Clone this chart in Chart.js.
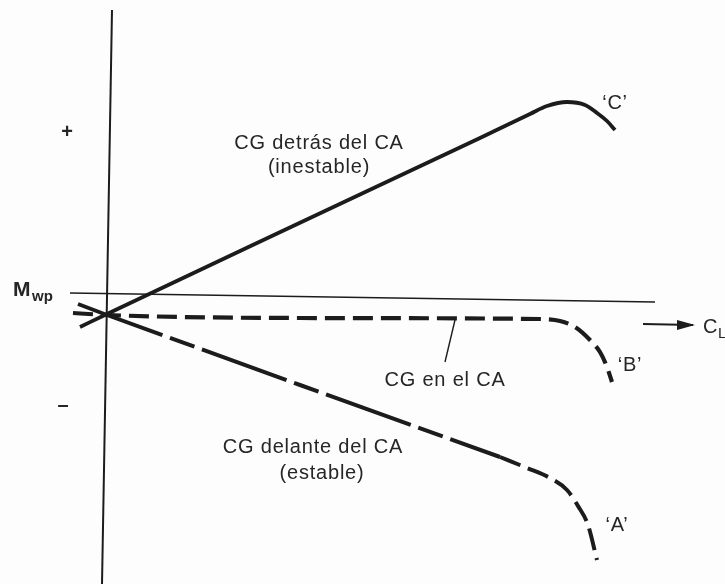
<!DOCTYPE html>
<html>
<head>
<meta charset="utf-8">
<script src="https://cdn.jsdelivr.net/npm/chart.js@4/dist/chart.umd.min.js"></script>
<style>
  html, body { margin: 0; padding: 0; background: #fdfdfd; }
  #wrap { width: 725px; height: 584px; }
</style>
</head>
<body>
<div id="wrap"><canvas id="chart" width="725" height="584"></canvas></div>
<script>
// C_L on x, pitching moment on y (arbitrary units, origin at the axes crossing)
const curveC = [
  { x: -0.054, y: -0.024 }, { x: 0, y: 0.002 }, { x: 0.37, y: 0.177 },
  { x: 0.746, y: 0.354 }, { x: 0.846, y: 0.402 }, { x: 0.88, y: 0.418 },
  { x: 0.92, y: 0.426 }, { x: 0.956, y: 0.42 }, { x: 0.98, y: 0.404 },
  { x: 1.0, y: 0.388 }, { x: 1.016, y: 0.37 },
];
const curveB = [
  { x: -0.068, y: 0.004 }, { x: 0, y: 0 }, { x: 0.386, y: -0.006 },
  { x: 0.866, y: -0.008 }, { x: 0.906, y: -0.012 }, { x: 0.936, y: -0.024 },
  { x: 0.966, y: -0.05 }, { x: 0.986, y: -0.074 }, { x: 1.0, y: -0.104 },
  { x: 1.01, y: -0.134 },
];
const curveA = [
  { x: -0.058, y: 0.022 }, { x: 0, y: 0 }, { x: 0.386, y: -0.14 },
  { x: 0.786, y: -0.284 },
];
const curveAEnd = [
  { x: 0.786, y: -0.284 }, { x: 0.84, y: -0.306 }, { x: 0.886, y: -0.326 },
  { x: 0.92, y: -0.35 }, { x: 0.942, y: -0.382 }, { x: 0.962, y: -0.42 },
  { x: 0.98, y: -0.49 },
];
const axisY = [{ x: 0.01, y: 0.61 }, { x: -0.01, y: -0.538 }];
const lineMwp = [{ x: -0.074, y: 0.044 }, { x: 1.096, y: 0.026 }];
const pointer = [{ x: 0.696, y: -0.01 }, { x: 0.676, y: -0.094 }];
const arrowCL = [{ x: 1.072, y: -0.018 }, { x: 1.172, y: -0.02 }];

const labels = [
  { text: "CG detrás del CA", x: 0.424, y: 0.344 },
  { text: "(inestable)", x: 0.424, y: 0.296 },
  { text: "CG en el CA", x: 0.676, y: -0.13 },
  { text: "CG delante del CA", x: 0.412, y: -0.264 },
  { text: "(estable)", x: 0.43, y: -0.316 },
  { text: "‘C’", x: 1.016, y: 0.424 },
  { text: "‘B’", x: 1.046, y: -0.1 },
  { text: "‘A’", x: 1.02, y: -0.42 },
];
const signs = [
  { text: "+", x: -0.08, y: 0.366 },
  { text: "–", x: -0.088, y: -0.18 },
];

const ink = "#1c1c1c";

const textPlugin = {
  id: "notes",
  afterDatasetsDraw(chart) {
    const { ctx, scales } = chart;
    const sx = scales.x, sy = scales.y;
    ctx.save();
    ctx.fillStyle = "#262626";
    ctx.textAlign = "center";
    ctx.textBaseline = "middle";
    ctx.font = "20px 'Liberation Sans', Arial, sans-serif";
    ctx.letterSpacing = "0.8px";
    labels.forEach((l) => {
      ctx.fillText(l.text, sx.getPixelForValue(l.x), sy.getPixelForValue(l.y));
    });
    ctx.letterSpacing = "0px";
    ctx.font = "bold 20px 'Liberation Sans', Arial, sans-serif";
    signs.forEach((l) => {
      ctx.fillText(l.text, sx.getPixelForValue(l.x), sy.getPixelForValue(l.y));
    });
    // M_wp
    ctx.textAlign = "left";
    ctx.font = "bold 21px 'Liberation Sans', Arial, sans-serif";
    const mx = sx.getPixelForValue(-0.188), my = sy.getPixelForValue(0.05);
    ctx.fillText("M", mx, my);
    ctx.font = "bold 15px 'Liberation Sans', Arial, sans-serif";
    ctx.fillText("wp", mx + 19, my + 7);
    // C_L
    ctx.font = "20px 'Liberation Sans', Arial, sans-serif";
    const cx = sx.getPixelForValue(1.192), cy = sy.getPixelForValue(-0.024);
    ctx.fillText("C", cx, cy);
    ctx.font = "15px 'Liberation Sans', Arial, sans-serif";
    ctx.fillText("L", cx + 15, cy + 7);
    // arrow head on the C_L arrow
    const ax = sx.getPixelForValue(arrowCL[1].x), ay = sy.getPixelForValue(arrowCL[1].y);
    ctx.fillStyle = ink;
    ctx.beginPath();
    ctx.moveTo(ax + 2, ay);
    ctx.lineTo(ax - 16, ay - 5);
    ctx.lineTo(ax - 16, ay + 5);
    ctx.closePath();
    ctx.fill();
    ctx.restore();
  },
};

function ds(data, width, dash, mode) {
  return {
    data: data,
    borderColor: ink,
    borderWidth: width,
    borderDash: dash || [],
    pointRadius: 0,
    fill: false,
    cubicInterpolationMode: mode || "default",
    tension: 0,
  };
}

new Chart(document.getElementById("chart"), {
  type: "line",
  data: {
    datasets: [
      ds(axisY, 2),
      ds(lineMwp, 1.6),
      ds(pointer, 1.4),
      ds(arrowCL, 2),
      ds(curveC, 3.8, [], "monotone"),
      ds(curveB, 4.2, [20, 8], "monotone"),
      ds(curveA, 4, [90, 8, 26, 8]),
      ds(curveAEnd, 4, [22, 8], "monotone"),
    ],
  },
  options: {
    responsive: false,
    animation: false,
    layout: { padding: 0 },
    plugins: { legend: { display: false }, tooltip: { enabled: false } },
    scales: {
      x: { type: "linear", display: false, min: -0.214, max: 1.236 },
      y: { type: "linear", display: false, min: -0.538, max: 0.63 },
    },
  },
  plugins: [textPlugin],
});
</script>
</body>
</html>
